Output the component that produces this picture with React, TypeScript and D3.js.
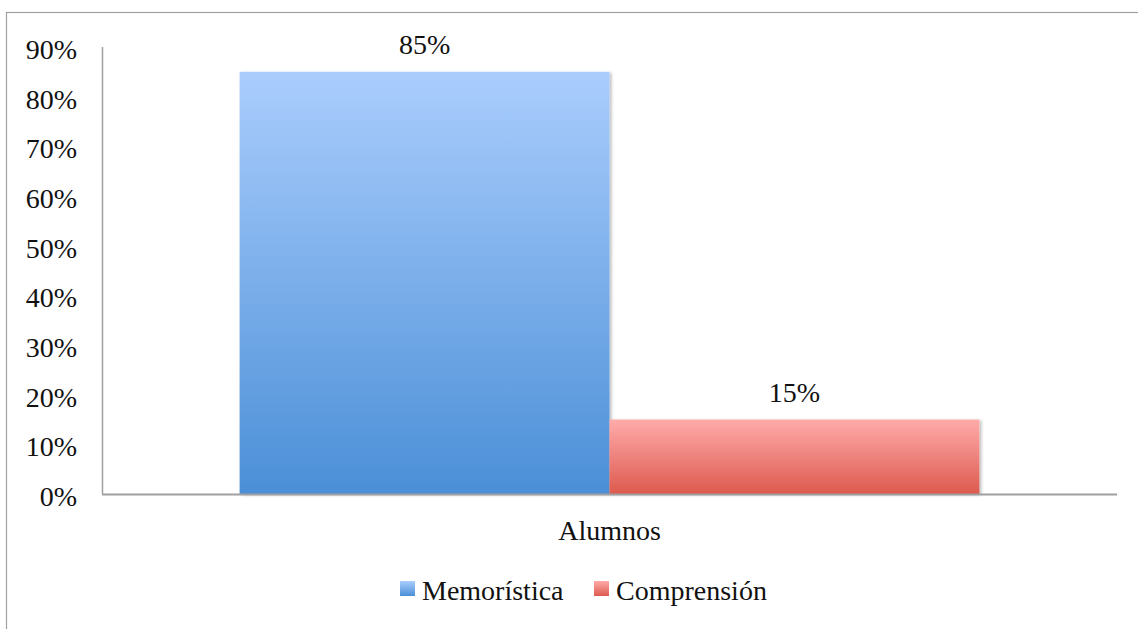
import React from "react";
import * as d3 from "d3";

const categories = ["Alumnos"];
const seriesNames = ["Memorística", "Comprensión"];
const seriesValues = [0.85, 0.15];
const yTicks = [0, 0.1, 0.2, 0.3, 0.4, 0.5, 0.6, 0.7, 0.8, 0.9];
const gradients = [
  { id: "gBlue", top: "#aacdfd", bottom: "#4b8fd7" },
  { id: "gRed", top: "#ffabaa", bottom: "#dd5a4f" },
];

const W = 1138;
const H = 629;
const FONT = "'Liberation Serif', 'Times New Roman', serif";

export default function App() {
  const left = 102, right = 1117, top = 47, bottom = 494;
  const y = d3.scaleLinear().domain([0, 0.9]).range([bottom, top]);
  const x0 = d3.scaleBand().domain(categories).range([left, right]).paddingOuter(0.186).paddingInner(0);
  const x1 = d3.scaleBand().domain(seriesNames).range([0, x0.bandwidth()]).padding(0);
  const fmt = d3.format(".0%");

  return (
    <svg width={W} height={H} style={{ position: "absolute", left: 0, top: 0 }} fontFamily={FONT}>
      <defs>
        {gradients.map((g) => (
          <linearGradient key={g.id} id={g.id} x1="0" y1="0" x2="0" y2="1">
            <stop offset="0%" stopColor={g.top} />
            <stop offset="100%" stopColor={g.bottom} />
          </linearGradient>
        ))}
        <filter id="shadow" x="-5%" y="-5%" width="115%" height="115%">
          <feDropShadow dx="2" dy="1" stdDeviation="1.5" floodColor="#000" floodOpacity="0.25" />
        </filter>
      </defs>
      <rect x={0} y={0} width={W} height={H} fill="#fff" />
      <rect x={6.5} y={12.5} width={W + 20} height={H + 20} fill="none" stroke="#a0a0a0" strokeWidth={1.2} />

      {categories.map((c) => (
        <g key={c} transform={`translate(${x0(c)},0)`}>
          {seriesNames.map((s, i) => (
            <rect
              key={s}
              x={x1(s)}
              y={y(seriesValues[i])}
              width={x1.bandwidth()}
              height={bottom - y(seriesValues[i])}
              fill={`url(#${gradients[i].id})`}
              filter="url(#shadow)"
            />
          ))}
          {seriesNames.map((s, i) => (
            <text
              key={s + "l"}
              x={(x1(s) as number) + x1.bandwidth() / 2}
              y={y(seriesValues[i]) - 18}
              textAnchor="middle"
              fontSize={28}
              fill="#111"
            >
              {fmt(seriesValues[i])}
            </text>
          ))}
        </g>
      ))}

      <line x1={left + 0.5} x2={left + 0.5} y1={top} y2={bottom} stroke="#a0a0a0" strokeWidth={1.5} />
      <line x1={left} x2={right} y1={bottom + 0.5} y2={bottom + 0.5} stroke="#a0a0a0" strokeWidth={2} />
      {yTicks.map((t) => (
        <text key={t} x={77} y={y(t) + 12} textAnchor="end" fontSize={28} fill="#111">
          {fmt(t)}
        </text>
      ))}
      {categories.map((c) => (
        <text key={c} x={(x0(c) as number) + x0.bandwidth() / 2} y={540} textAnchor="middle" fontSize={28} fill="#111">
          {c}
        </text>
      ))}

      {seriesNames.map((s, i) => {
        const lx = [400, 594][i];
        return (
          <g key={s}>
            <rect x={lx} y={581} width={15} height={15} fill={`url(#${gradients[i].id})`} />
            <text x={lx + 22} y={600} fontSize={28} fill="#111">
              {s}
            </text>
          </g>
        );
      })}
    </svg>
  );
}
